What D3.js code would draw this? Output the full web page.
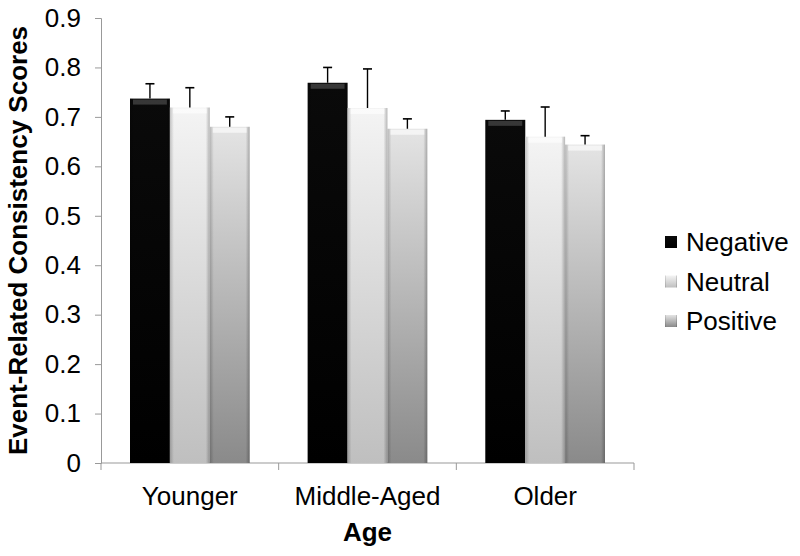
<!DOCTYPE html>
<html>
<head>
<meta charset="utf-8">
<script src="https://cdn.jsdelivr.net/npm/d3@7"></script>
<style>
  body { margin: 0; background: #fff; }
  text { font-family: "Liberation Sans", Arial, sans-serif; }
</style>
</head>
<body>
<div id="chart"></div>
<script>
var groups = ["Younger", "Middle-Aged", "Older"];
var series = ["Negative", "Neutral", "Positive"];
var negative = [0.737, 0.769, 0.694];
var neutral = [0.719, 0.718, 0.660];
var positive = [0.680, 0.676, 0.644];
var negErr = [0.030, 0.031, 0.018];
var neuErr = [0.040, 0.079, 0.060];
var posErr = [0.020, 0.020, 0.018];
var yTicks = [0, 0.1, 0.2, 0.3, 0.4, 0.5, 0.6, 0.7, 0.8, 0.9];

var values = [negative, neutral, positive];
var errors = [negErr, neuErr, posErr];

var margin = {top: 18, right: 166, bottom: 93, left: 101},
    width = 800 - margin.left - margin.right,
    height = 556 - margin.top - margin.bottom;

var svg = d3.select("#chart")
  .append("svg")
    .attr("width", 800)
    .attr("height", 556);

var defs = svg.append("defs");
var grads = [
  {id: "gNeg", top: "#0a0a0a", bot: "#000000"},
  {id: "gNeu", top: "#f4f4f4", bot: "#bfbfbf"},
  {id: "gPos", top: "#e4e4e4", bot: "#8a8a8a"}
];
grads.forEach(function(g) {
  var lg = defs.append("linearGradient")
    .attr("id", g.id).attr("x1", 0).attr("y1", 0).attr("x2", 0).attr("y2", 1);
  lg.append("stop").attr("offset", "0%").attr("stop-color", g.top);
  lg.append("stop").attr("offset", "100%").attr("stop-color", g.bot);
});
// side bevel
var side = defs.append("linearGradient")
  .attr("id", "side").attr("x1", 0).attr("y1", 0).attr("x2", 1).attr("y2", 0);
side.append("stop").attr("offset", "0%").attr("stop-color", "#000").attr("stop-opacity", 0.2);
side.append("stop").attr("offset", "10%").attr("stop-color", "#000").attr("stop-opacity", 0);
side.append("stop").attr("offset", "90%").attr("stop-color", "#000").attr("stop-opacity", 0);
side.append("stop").attr("offset", "100%").attr("stop-color", "#000").attr("stop-opacity", 0.25);

var g = svg.append("g")
  .attr("transform", "translate(" + margin.left + "," + margin.top + ")");

var x0 = d3.scaleBand()
  .domain(groups)
  .range([0, width])
  .padding(0);

var x1 = d3.scaleBand()
  .domain(series)
  .range([29, x0.bandwidth() - 29]);

var y = d3.scaleLinear()
  .domain([0, 0.9])
  .range([height, 0]);

// y axis
var yAxis = g.append("g")
  .call(d3.axisLeft(y).tickValues(yTicks).tickSize(6).tickPadding(14)
    .tickFormat(function(d) { return d === 0 ? "0" : d3.format(".1f")(d); }));
yAxis.select(".domain").attr("stroke", "#999");
yAxis.selectAll(".tick line").attr("stroke", "#999");
yAxis.selectAll("text").attr("font-size", 26).attr("fill", "#000")
  .style("font-family", "Liberation Sans, Arial, sans-serif");

// x axis
var xAxis = g.append("g")
  .attr("transform", "translate(0," + height + ")");
xAxis.append("line")
  .attr("x1", 0).attr("x2", width)
  .attr("stroke", "#999");
var bounds = groups.map(function(d) { return x0(d); }).concat([width]);
xAxis.selectAll(".bt")
  .data(bounds)
  .enter().append("line")
    .attr("x1", function(d) { return d; })
    .attr("x2", function(d) { return d; })
    .attr("y1", 0).attr("y2", 7)
    .attr("stroke", "#999");
xAxis.selectAll(".xl")
  .data(groups)
  .enter().append("text")
    .attr("x", function(d) { return x0(d) + x0.bandwidth() / 2; })
    .attr("y", 42)
    .attr("text-anchor", "middle")
    .attr("font-size", 26)
    .text(function(d) { return d; });

// bars
var gradIds = ["gNeg", "gNeu", "gPos"];
var rows = [];
groups.forEach(function(grp, i) {
  series.forEach(function(s, j) {
    rows.push({group: grp, series: s, value: values[j][i], err: errors[j][i], k: j});
  });
});

var bars = g.selectAll(".bar")
  .data(rows)
  .enter().append("g")
    .attr("class", "bar");

bars.append("rect")
  .attr("x", function(d) { return x0(d.group) + x1(d.series); })
  .attr("y", function(d) { return y(d.value); })
  .attr("width", x1.bandwidth())
  .attr("height", function(d) { return height - y(d.value); })
  .attr("fill", function(d) { return "url(#" + gradIds[d.k] + ")"; });

bars.append("rect")
  .attr("x", function(d) { return x0(d.group) + x1(d.series); })
  .attr("y", function(d) { return y(d.value); })
  .attr("width", x1.bandwidth())
  .attr("height", function(d) { return height - y(d.value); })
  .attr("fill", "url(#side)");

// top bevel highlight
bars.append("rect")
  .attr("x", function(d) { return x0(d.group) + x1(d.series) + 3; })
  .attr("y", function(d) { return y(d.value) + 1; })
  .attr("width", x1.bandwidth() - 6)
  .attr("height", 5)
  .attr("fill", function(d) { return d.k === 0 ? "#555" : "#fff"; })
  .attr("opacity", 0.6);

// error bars
bars.append("line")
  .attr("x1", function(d) { return x0(d.group) + x1(d.series) + x1.bandwidth() / 2; })
  .attr("x2", function(d) { return x0(d.group) + x1(d.series) + x1.bandwidth() / 2; })
  .attr("y1", function(d) { return y(d.value); })
  .attr("y2", function(d) { return y(d.value + d.err); })
  .attr("stroke", "#000").attr("stroke-width", 1.4);
bars.append("line")
  .attr("x1", function(d) { return x0(d.group) + x1(d.series) + x1.bandwidth() / 2 - 4.5; })
  .attr("x2", function(d) { return x0(d.group) + x1(d.series) + x1.bandwidth() / 2 + 4.5; })
  .attr("y1", function(d) { return y(d.value + d.err); })
  .attr("y2", function(d) { return y(d.value + d.err); })
  .attr("stroke", "#000").attr("stroke-width", 1.6);

// titles
svg.append("text")
  .attr("transform", "translate(27," + (margin.top + height / 2) + ") rotate(-90)")
  .attr("text-anchor", "middle")
  .attr("font-size", 26)
  .attr("font-weight", "bold")
  .text("Event-Related Consistency Scores");

svg.append("text")
  .attr("x", margin.left + width / 2)
  .attr("y", 541)
  .attr("text-anchor", "middle")
  .attr("font-size", 26)
  .attr("font-weight", "bold")
  .text("Age");

// legend
var legend = svg.append("g")
  .attr("transform", "translate(665,242)");
var li = legend.selectAll(".li")
  .data(series)
  .enter().append("g")
    .attr("transform", function(d, i) { return "translate(0," + (i * 39.5) + ")"; });
li.append("rect")
  .attr("x", 0).attr("y", -6)
  .attr("width", 12).attr("height", 12)
  .attr("fill", function(d, i) { return "url(#" + gradIds[i] + ")"; });
li.append("rect")
  .attr("x", 0).attr("y", -6)
  .attr("width", 12).attr("height", 12)
  .attr("fill", "url(#side)");
li.append("text")
  .attr("x", 21).attr("y", 9)
  .attr("font-size", 26)
  .text(function(d) { return d; });
</script>
</body>
</html>
